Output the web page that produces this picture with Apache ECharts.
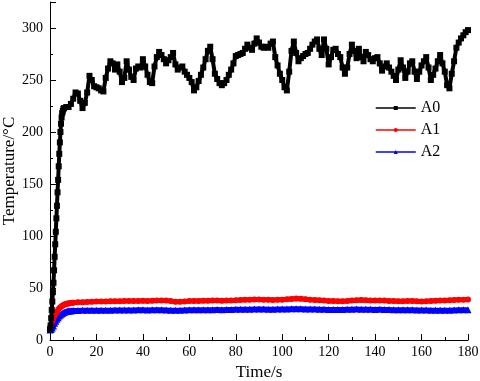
<!DOCTYPE html>
<html>
<head>
<meta charset="utf-8">
<script src="https://cdn.jsdelivr.net/npm/echarts@6/dist/echarts.min.js"></script>
<style>
  html, body { margin: 0; padding: 0; background: #fff; }
  #chart { width: 480px; height: 381px; }
</style>
</head>
<body>
<div id="chart"></div>
<script>
// A0: fast rise, sampled every 0.25 s from 0 to 6 s
const a0Rise = [10, 14, 21, 29, 37, 46, 55, 67, 80, 92, 104, 117, 129, 142, 154, 167,
  179, 190, 200, 208, 214, 218, 220, 222, 223];
// A0: one value per second from 7 to 180 s
const a0Temp = [
  224, 224, 227, 232,
  238, 237, 230, 223, 228, 238, 254, 250, 244, 243,
  242, 240, 239, 252, 261, 268, 266, 260, 265, 258,
  248, 252, 268, 260, 253, 250, 261, 263, 262, 270,
  263, 255, 248, 247, 263, 272, 277, 274, 270, 266,
  269, 272, 276, 265, 260, 262, 263, 258, 255, 252,
  248, 240, 243, 249, 255, 262, 270, 278, 282, 270,
  256, 251, 247, 245, 247, 250, 255, 260, 266, 273,
  274, 275, 276, 280, 284, 281, 279, 285, 290, 286,
  282, 281, 282, 281, 285, 287, 272, 264, 256, 250,
  243, 240, 258, 278, 287, 276, 268, 271, 273, 275,
  276, 280, 284, 287, 289, 280, 274, 289, 280, 265,
  272, 279, 280, 275, 272, 262, 256, 262, 275, 284,
  278, 271, 280, 272, 268, 277, 274, 270, 268, 271,
  272, 266, 259, 263, 266, 262, 258, 254, 250, 260,
  269, 262, 252, 258, 266, 268, 258, 251, 258, 264,
  268, 272, 262, 250, 255, 261, 268, 274, 266, 258,
  245, 242, 256, 268, 281, 286, 290, 293, 296, 298
];
// A1 / A2: every 0.5 s up to 10 s, then every 2 s up to 180 s
const a1Temp = [
  12, 15, 18, 21, 23.5, 25.5, 27.5, 29, 30.5, 31.5, 32.5, 33.2, 33.8, 34.3, 34.7, 35, 35.2, 35.4, 35.6, 35.7, 35.8,
  36.2, 36.4, 36.6, 36.8, 37.0, 36.9, 37.1, 37.2, 37.3, 37.2,
  37.4, 37.5, 37.4, 37.6, 37.7, 37.5, 37.7, 38.0, 38.1, 38.0,
  37.4, 36.8, 36.7, 37.0, 37.4, 37.6, 37.5, 37.7, 37.8, 37.9,
  38.0, 37.8, 37.9, 38.1, 38.2, 38.4, 38.6, 38.8, 39.0, 38.9,
  38.7, 38.6, 38.4, 38.6, 38.8, 39.1, 39.5, 39.8, 39.6, 39.1,
  38.6, 38.4, 38.2, 37.9, 37.6, 37.4, 37.2, 37.3, 37.6, 38.0,
  38.3, 38.4, 38.2, 38.0, 37.9, 38.1, 37.9, 37.6, 37.4, 37.2,
  37.3, 37.5, 37.4, 37.2, 37.1, 37.3, 37.6, 37.8, 38.0, 38.1,
  38.3, 38.5, 38.7, 38.8, 39.0
];
const a2Temp = [
  9.5, 10, 11.5, 13.5, 16, 18, 20, 21.5, 23, 24, 25, 25.8, 26.4, 26.9, 27.3, 27.6, 27.8, 28, 28.1, 28.2, 28.3,
  28.4, 28.5, 28.5, 28.6, 28.6, 28.7, 28.6, 28.7, 28.8, 28.8,
  28.9, 28.8, 28.9, 29.0, 29.0, 28.9, 29.0, 29.1, 29.0, 28.8,
  28.6, 28.5, 28.6, 28.8, 29.0, 29.1, 29.0, 29.1, 29.2, 29.2,
  29.3, 29.2, 29.3, 29.4, 29.5, 29.5, 29.6, 29.6, 29.7, 29.8,
  29.7, 29.6, 29.6, 29.7, 29.8, 29.9, 30.0, 30.1, 30.0, 29.9,
  29.8, 29.7, 29.6, 29.5, 29.4, 29.4, 29.3, 29.4, 29.5, 29.6,
  29.7, 29.6, 29.5, 29.5, 29.4, 29.5, 29.4, 29.3, 29.2, 29.1,
  29.0, 29.1, 29.0, 28.9, 28.9, 28.8, 28.7, 28.6, 28.6, 28.5,
  28.7, 28.9, 29.0, 29.1, 29.2
];
const seriesNames = ['A0', 'A1', 'A2'];
const xTicks = [0, 20, 40, 60, 80, 100, 120, 140, 160, 180];
const yTicks = [0, 50, 100, 150, 200, 250, 300];

// sample times
const a0Times = [];
for (let i = 0; i < a0Rise.length; i++) a0Times.push(i * 0.25);
for (let t = 7; t <= 180; t++) a0Times.push(t);
const lowTimes = [];
for (let i = 0; i <= 20; i++) lowTimes.push(i * 0.5);
for (let t = 12; t <= 180; t += 2) lowTimes.push(t);

const a0Values = a0Rise.concat(a0Temp);
const pair = (times, vals) => times.map((t, i) => [t, vals[i]]);

const font = 'Liberation Serif, Times New Roman, serif';
const chart = echarts.init(document.getElementById('chart'));

chart.setOption({
  animation: false,
  backgroundColor: '#fff',
  textStyle: { fontFamily: font, color: '#000' },
  grid: { left: 50, right: 12, top: 2, bottom: 41, containLabel: false, outerBoundsMode: 'none' },
  legend: {
    data: seriesNames,
    orient: 'vertical',
    left: 370,
    top: 95,
    itemWidth: 40,
    itemHeight: 5,
    itemGap: 6,
    textStyle: { fontFamily: font, fontSize: 16, color: '#000' },
    lineStyle: { width: 1.5 }
  },
  xAxis: {
    type: 'value',
    min: xTicks[0],
    max: xTicks[xTicks.length - 1],
    interval: 20,
    name: 'Time/s',
    nameLocation: 'middle',
    nameGap: 24,
    nameMoveOverlap: false,
    nameTextStyle: { fontFamily: font, fontSize: 17, color: '#000' },
    axisLine: { lineStyle: { color: '#000', width: 1 } },
    axisTick: { inside: true, length: 6, lineStyle: { color: '#000' } },
    minorTick: { show: true, splitNumber: 2, length: 3, lineStyle: { color: '#000' } },
    axisLabel: { fontFamily: font, fontSize: 14, color: '#000', margin: 5 },
    splitLine: { show: false }
  },
  yAxis: {
    type: 'value',
    min: yTicks[0],
    max: 325,
    interval: 50,
    name: 'Temperature/°C',
    nameLocation: 'middle',
    nameGap: 32,
    nameMoveOverlap: false,
    nameTextStyle: { fontFamily: font, fontSize: 17, color: '#000' },
    axisLine: { show: true, lineStyle: { color: '#000', width: 1 } },
    axisTick: { inside: true, length: 6, lineStyle: { color: '#000' } },
    minorTick: { show: true, splitNumber: 2, length: 3, lineStyle: { color: '#000' } },
    axisLabel: { fontFamily: font, fontSize: 14, color: '#000', margin: 7, showMaxLabel: false },
    splitLine: { show: false }
  },
  series: [
    {
      name: 'A0',
      type: 'line',
      z: 4,
      data: pair(a0Times, a0Values),
      symbol: 'rect',
      symbolSize: 6,
      showAllSymbol: true,
      lineStyle: { color: '#000', width: 4 },
      itemStyle: { color: '#000' }
    },
    {
      name: 'A1',
      type: 'line',
      z: 3,
      data: pair(lowTimes, a1Temp),
      symbol: 'circle',
      symbolSize: 6,
      showAllSymbol: true,
      lineStyle: { color: '#ff0000', width: 5 },
      itemStyle: { color: '#ff0000' }
    },
    {
      name: 'A2',
      type: 'line',
      z: 2,
      data: pair(lowTimes, a2Temp),
      symbol: 'triangle',
      symbolSize: 7,
      showAllSymbol: true,
      lineStyle: { color: '#0000ff', width: 5 },
      itemStyle: { color: '#0000ff' }
    }
  ]
});
</script>
</body>
</html>
